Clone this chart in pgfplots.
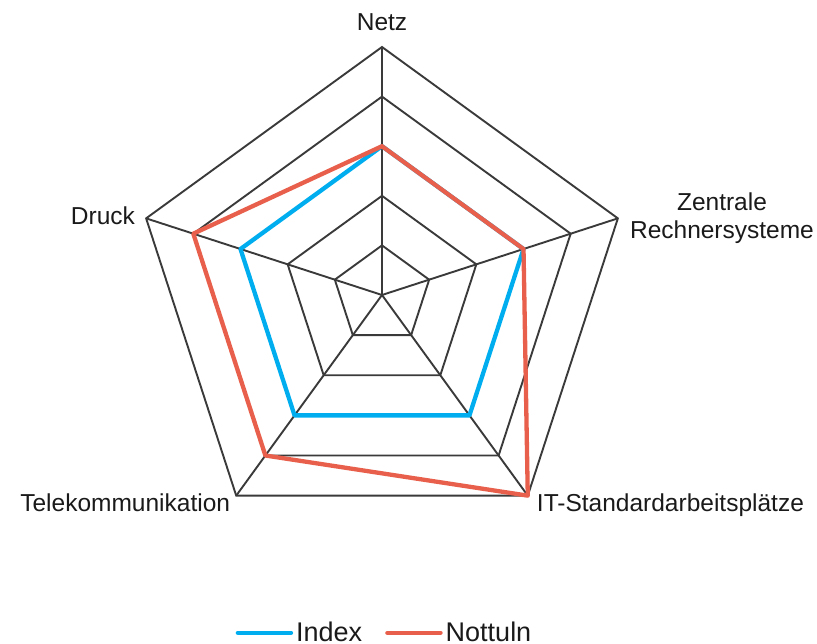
\documentclass[border=0pt]{standalone}
\usepackage{fontspec}
\setmainfont{Liberation Sans}
\usepackage{pgfplots}
\pgfplotsset{compat=1.18}
\usepgfplotslibrary{polar}
\definecolor{gridc}{HTML}{3A3A3A}
\definecolor{idx}{HTML}{00AEEF}
\definecolor{nott}{HTML}{E8604C}
\definecolor{txt}{HTML}{1A1A1A}
\newcommand{\lf}{\fontsize{24.5}{28}\selectfont}
\newcommand{\lgf}{\fontsize{27}{30}\selectfont}
\begin{document}
\begin{tikzpicture}
\useasboundingbox (0,0) rectangle (817pt,644pt);
\begin{polaraxis}[
  at={(382pt,349pt)}, anchor=center,
  scale only axis, width=496pt, height=496pt,
  ymin=0, ymax=5, hide axis, clip=false,
  legend columns=2,
  legend style={at={(0.506,-0.181)}, anchor=center, draw=none, fill=none,
    font=\lgf, text=txt,
    nodes={inner sep=3pt},
    /tikz/every even column/.append style={column sep=20pt}},
  legend image code/.code={\draw[#1, line width=4.5pt, line cap=round] (2pt,0pt) -- (55pt,0pt);},
]
\foreach \r in {1,...,5} {
  \edef\tmp{\noexpand\addplot[gridc, line width=1.9pt, line join=miter, forget plot] coordinates {(90,\r) (18,\r) (306,\r) (234,\r) (162,\r) (90,\r) (18,\r)};}
  \tmp
}
\addplot[gridc, line width=1.9pt, forget plot] coordinates {(90,0) (90,5)};
\addplot[gridc, line width=1.9pt, forget plot] coordinates {(18,0) (18,5)};
\addplot[gridc, line width=1.9pt, forget plot] coordinates {(306,0) (306,5)};
\addplot[gridc, line width=1.9pt, forget plot] coordinates {(234,0) (234,5)};
\addplot[gridc, line width=1.9pt, forget plot] coordinates {(162,0) (162,5)};
% Index
\addplot[idx, line width=4.3pt, line join=round, line cap=round] coordinates {(90,3) (18,3) (306,3) (234,3) (162,3) (90,3)};
\addlegendentry{Index}
% Nottuln
\addplot[nott, line width=4.3pt, line join=round, line cap=round] coordinates {(90,3) (18,3) (306,5) (234,4) (162,4) (90,3)};
\addlegendentry{Nottuln}
\node[anchor=south, inner sep=0pt, yshift=16.5pt, font=\lf, text=txt] at (axis cs:90,5) {Netz};
\node[anchor=west, inner sep=0pt, xshift=12pt, align=center, font=\lf, text=txt] at (axis cs:18,5) {Zentrale\\Rechnersysteme};
\node[anchor=base west, inner sep=0pt, xshift=9pt, yshift=-16pt, font=\lf, text=txt] at (axis cs:306,5) {IT-Standardarbeitsplätze};
\node[anchor=base east, inner sep=0pt, xshift=-6pt, yshift=-16pt, font=\lf, text=txt] at (axis cs:234,5) {Telekommunikation};
\node[anchor=base east, inner sep=0pt, xshift=-11pt, yshift=-6pt, font=\lf, text=txt] at (axis cs:162,5) {Druck};
\end{polaraxis}
\end{tikzpicture}
\end{document}
